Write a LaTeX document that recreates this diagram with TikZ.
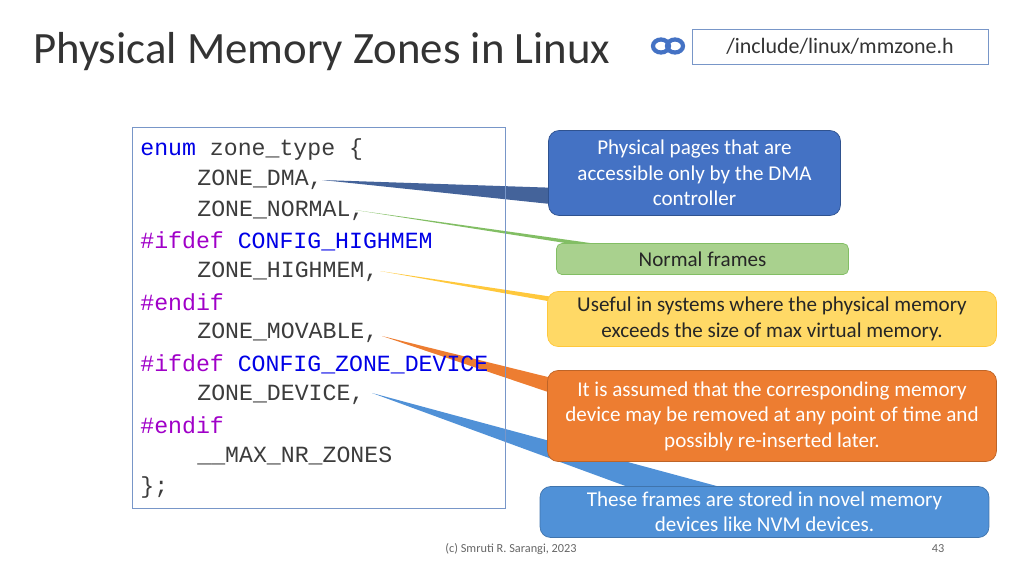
\documentclass[tikz,border=0pt]{standalone}
\usepackage{fontspec}
\setmainfont{Carlito}
\setmonofont{Liberation Mono}
\usetikzlibrary{positioning}
\definecolor{kwblue}{RGB}{0,0,230}
\definecolor{kwpurple}{RGB}{160,0,200}
\definecolor{codegray}{RGB}{60,60,60}
\definecolor{dmablue}{RGB}{68,114,196}
\definecolor{dmaedge}{RGB}{47,82,143}
\definecolor{normgreen}{RGB}{169,209,142}
\definecolor{normtail}{RGB}{130,190,100}
\definecolor{highyellow}{RGB}{255,217,102}
\definecolor{hightail}{RGB}{255,200,60}
\definecolor{movorange}{RGB}{237,125,49}
\definecolor{devblue}{RGB}{80,145,215}
\definecolor{frame}{RGB}{120,150,200}
\tikzset{
  callout/.style={
    rounded corners=6pt,
    align=center,
    font=\fontsize{12}{14.5}\selectfont,
    inner sep=0pt
  },
  codeline/.style={
    anchor=west,
    font=\ttfamily\fontsize{13.2}{15}\selectfont,
    text=codegray,
    inner sep=0pt
  }
}

\begin{document}
\begin{tikzpicture}[x=0.02cm,y=-0.02cm]
  \useasboundingbox (0,0) rectangle (1024,576);

  % Title and link
  \node[anchor=west, font=\fontsize{25.5}{30}\selectfont, text=black!80] (title) at (27,52) {Physical Memory Zones in Linux};
  \node[draw=frame, minimum width=5.92cm, minimum height=0.7cm, font=\fontsize{12.5}{14}\selectfont, text=black!80] (link) at (840,46.5) {/include/linux/mmzone.h};
  \foreach \dx in {-7,7} \draw[line width=2.4pt, dmablue] (668+\dx,46) ellipse [x radius=8, y radius=6.5];

  % Tails
  \coordinate (t1) at (322,180);
  \coordinate (t2) at (355,210);
  \coordinate (t3) at (380,271);
  \coordinate (t4) at (382,336);
  \coordinate (t5) at (372,393);
  \fill[dmaedge!90] (t1) -- (560,188) -- (560,205) -- cycle;
  \fill[normtail] (t2) -- (610,250) -- (640,250) -- cycle;
  \fill[hightail] (t3) -- (560,298) -- (570,305) -- cycle;
  \fill[movorange] (t4) -- (560,380) -- (560,396) -- cycle;
  \fill[devblue] (t5) -- (650,495) -- (750,495) -- cycle;

  % Code
  \draw[draw=frame] (132,127) rectangle (505,508);
  \node[codeline] (l1) at (140,149) {\textcolor{kwblue}{enum} zone\_type \{};
  \node[codeline] (l2) at (197,180) {ZONE\_DMA,};
  \node[codeline] (l3) at (197,211) {ZONE\_NORMAL,};
  \node[codeline] (l4) at (140,241) {\textcolor{kwpurple}{\#ifdef} \textcolor{kwblue}{CONFIG\_HIGHMEM}};
  \node[codeline] (l5) at (197,272) {ZONE\_HIGHMEM,};
  \node[codeline] (l6) at (140,302) {\textcolor{kwpurple}{\#endif}};
  \node[codeline] (l7) at (197,333) {ZONE\_MOVABLE,};
  \node[codeline] (l8) at (140,364) {\textcolor{kwpurple}{\#ifdef} \textcolor{kwblue}{CONFIG\_ZONE\_DEVICE}};
  \node[codeline] (l9) at (197,395) {ZONE\_DEVICE,};
  \node[codeline] (l10) at (140,425) {\textcolor{kwpurple}{\#endif}};
  \node[codeline] (l11) at (197,456) {\_\_MAX\_NR\_ZONES};
  \node[codeline] (l12) at (140,487) {\};};

  % Callouts
  \node[callout, draw=dmaedge, fill=dmablue, text=white, minimum width=5.84cm, minimum height=1.7cm] (zdma) at (694.5,173) {Physical pages that are\\accessible only by the DMA\\controller};
  \node[callout, draw=normtail, fill=normgreen, text=black!85, minimum width=5.84cm, minimum height=0.62cm, rounded corners=3pt] (znormal) at (702.5,259) {Normal frames};
  \node[callout, draw=hightail, fill=highyellow, text=black!85, minimum width=8.98cm, minimum height=1.1cm] (zhigh) at (772,319) {Useful in systems where the physical memory\\exceeds the size of max virtual memory.};
  \node[callout, draw=movorange!80!black, fill=movorange, text=white, minimum width=8.98cm, minimum height=1.82cm] (zmovable) at (772,416) {It is assumed that the corresponding memory\\device may be removed at any point of time and\\possibly re-inserted later.};
  \node[callout, draw=devblue!80!black, fill=devblue, text=white, minimum width=8.98cm, minimum height=1.02cm] (zdevice) at (764.5,512) {These frames are stored in novel memory\\devices like NVM devices.};

  % Footer
  \node[font=\fontsize{7}{8}\selectfont, text=black!60] (credit) at (511,549) {(c) Smruti R. Sarangi, 2023};
  \node[font=\fontsize{7}{8}\selectfont, text=black!60] (page) at (938,549) {43};
\end{tikzpicture}
\end{document}
